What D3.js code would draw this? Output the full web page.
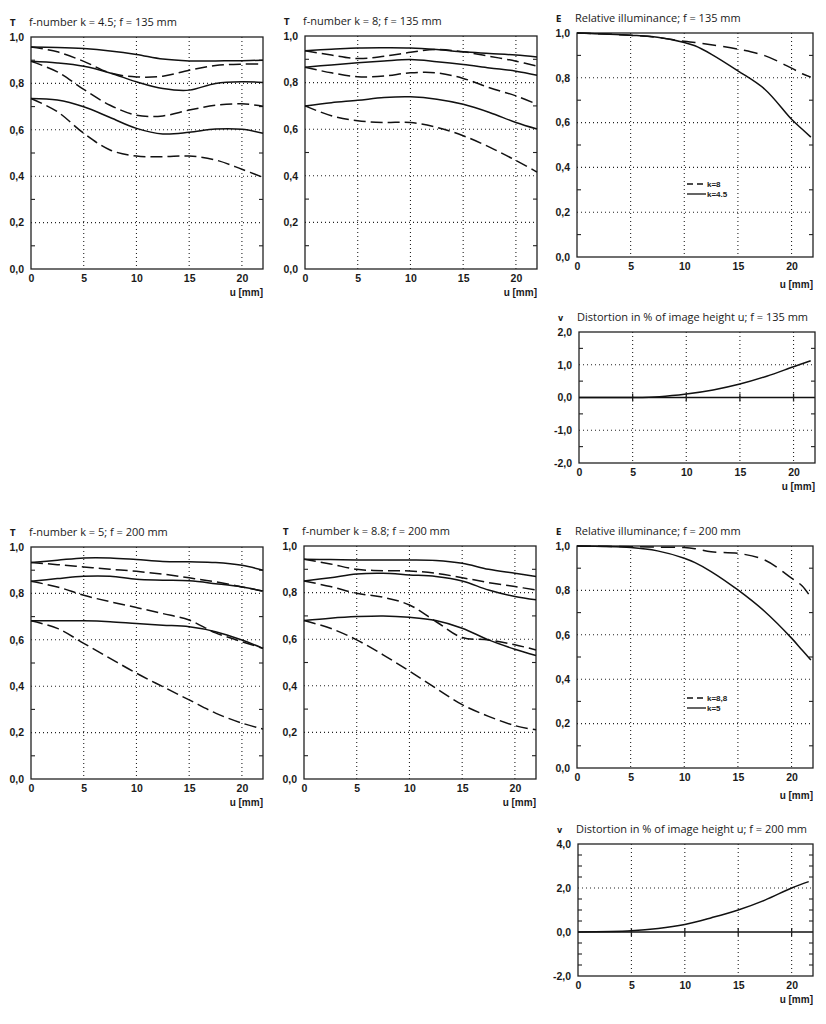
<!DOCTYPE html>
<html>
<head>
<meta charset="utf-8">
<title>Lens data f = 135 / 200 mm</title>
<script src="https://d3js.org/d3.v7.min.js"></script>
<style>
  body { margin: 0; background: #fff; }
  svg { display: block; }
  .title { font-family: "Open Sans", sans-serif; font-size: 11px; fill: #1a1a1a; }
  .ylet { font-family: "DejaVu Sans", sans-serif; font-size: 8px; font-weight: bold; fill: #1a1a1a; }
  .tick text { font-family: "Liberation Sans", sans-serif; font-size: 10.5px; font-weight: bold; fill: #1a1a1a; }
  .unit { font-family: "Liberation Sans", sans-serif; font-size: 10px; font-weight: bold; fill: #1a1a1a; }
  .leg { font-family: "Liberation Sans", sans-serif; font-size: 8px; font-weight: bold; fill: #1a1a1a; }
  .grid { stroke: #222; stroke-width: 1.1; stroke-dasharray: 1 3; }
  .frame { fill: none; stroke: #222; stroke-width: 1.3; }
  .curve { fill: none; stroke: #111; stroke-width: 1.5; }
</style>
</head>
<body>
<div id="chart"></div>
<script>
// image height u in mm where the curves were read
const uT = [0, 2.5, 5, 7.5, 10, 12.5, 15, 17.5, 20, 22];

// contrast T, f = 135 mm, k = 4.5 (three frequencies each)
const t135k45Solid = [
  [0.957, 0.955, 0.950, 0.940, 0.925, 0.905, 0.897, 0.897, 0.898, 0.900],
  [0.895, 0.888, 0.874, 0.845, 0.807, 0.778, 0.771, 0.800, 0.807, 0.804],
  [0.735, 0.728, 0.699, 0.653, 0.606, 0.582, 0.589, 0.603, 0.602, 0.585]
];
const t135k45Dashed = [
  [0.957, 0.936, 0.895, 0.845, 0.828, 0.831, 0.857, 0.877, 0.883, 0.883],
  [0.895, 0.850, 0.774, 0.706, 0.663, 0.660, 0.685, 0.706, 0.712, 0.702],
  [0.735, 0.678, 0.585, 0.513, 0.487, 0.484, 0.487, 0.470, 0.430, 0.395]
];

// contrast T, f = 135 mm, k = 8
const t135k8Solid = [
  [0.937, 0.943, 0.949, 0.950, 0.949, 0.942, 0.932, 0.925, 0.918, 0.910],
  [0.866, 0.876, 0.885, 0.893, 0.899, 0.890, 0.878, 0.863, 0.849, 0.832],
  [0.700, 0.714, 0.724, 0.736, 0.739, 0.729, 0.707, 0.672, 0.629, 0.601]
];
const t135k8Dashed = [
  [0.937, 0.918, 0.903, 0.913, 0.930, 0.942, 0.932, 0.913, 0.892, 0.871],
  [0.866, 0.842, 0.825, 0.828, 0.842, 0.842, 0.818, 0.778, 0.743, 0.707],
  [0.700, 0.658, 0.636, 0.629, 0.629, 0.608, 0.572, 0.523, 0.466, 0.416]
];

// contrast T, f = 200 mm, k = 5
const t200k5Solid = [
  [0.933, 0.943, 0.953, 0.953, 0.946, 0.938, 0.936, 0.933, 0.921, 0.900],
  [0.852, 0.864, 0.874, 0.874, 0.861, 0.857, 0.854, 0.842, 0.828, 0.810],
  [0.682, 0.682, 0.682, 0.678, 0.670, 0.663, 0.656, 0.635, 0.599, 0.563]
];
const t200k5Dashed = [
  [0.933, 0.924, 0.914, 0.904, 0.895, 0.883, 0.867, 0.850, 0.828, 0.810],
  [0.852, 0.828, 0.792, 0.764, 0.739, 0.713, 0.685, 0.630, 0.592, 0.563],
  [0.682, 0.649, 0.585, 0.520, 0.456, 0.398, 0.341, 0.284, 0.241, 0.215]
];

// contrast T, f = 200 mm, k = 8.8
const t200k88Solid = [
  [0.943, 0.942, 0.940, 0.940, 0.940, 0.938, 0.926, 0.900, 0.883, 0.869],
  [0.850, 0.864, 0.880, 0.883, 0.876, 0.869, 0.850, 0.811, 0.783, 0.769],
  [0.680, 0.690, 0.697, 0.700, 0.694, 0.680, 0.647, 0.597, 0.557, 0.530]
];
const t200k88Dashed = [
  [0.943, 0.923, 0.900, 0.894, 0.893, 0.883, 0.864, 0.843, 0.826, 0.811],
  [0.850, 0.826, 0.797, 0.780, 0.747, 0.676, 0.607, 0.597, 0.576, 0.554],
  [0.680, 0.647, 0.597, 0.533, 0.463, 0.390, 0.319, 0.269, 0.229, 0.211]
];

// relative illuminance E
const uE = [0, 5, 7.5, 10, 11, 12.5, 15, 17.5, 20, 21, 21.8];
const e135k8 = [1.0, 0.990, 0.980, 0.963, 0.958, 0.948, 0.928, 0.899, 0.843, 0.818, 0.803];
const e135k45 = [1.0, 0.990, 0.981, 0.958, 0.943, 0.906, 0.831, 0.749, 0.615, 0.570, 0.535];
const e200k88 = [1.0, 0.997, 0.995, 0.993, 0.988, 0.974, 0.967, 0.937, 0.855, 0.820, 0.768];
const e200k5 = [1.0, 0.993, 0.978, 0.945, 0.925, 0.885, 0.802, 0.705, 0.585, 0.530, 0.487];

// distortion v in %
const uD = [0, 5, 7.5, 10, 12.5, 15, 17.5, 20, 21.6];
const v135 = [0, 0, 0.025, 0.106, 0.23, 0.41, 0.65, 0.94, 1.12];
const v200 = [0, 0.056, 0.16, 0.345, 0.65, 1.0, 1.45, 2.0, 2.29];

const xTicks = [0, 5, 10, 15, 20];

const W = 826, H = 1024;
const svg = d3.select('#chart').append('svg').attr('width', W).attr('height', H);

const fmt = d => d3.format('.1f')(d).replace('.', ',').replace('\u2212', '-');

const panels = [
  { kind: 'T', letter: 'T', title: 'f-number k = 4.5; f = 135 mm', box: [31, 263, 37, 269], x: uT,
    solid: t135k45Solid, dashed: t135k45Dashed },
  { kind: 'T', letter: 'T', title: 'f-number k = 8; f = 135 mm', box: [305, 537, 36, 269], x: uT,
    solid: t135k8Solid, dashed: t135k8Dashed },
  { kind: 'E', letter: 'E', title: 'Relative illuminance; f = 135 mm', box: [577, 813, 33, 257], x: uE,
    solid: [e135k45], dashed: [e135k8], legend: ['k=8', 'k=4.5'], legY: 184 },
  { kind: 'D', letter: 'v', title: 'Distortion in % of image height u; f = 135 mm', box: [579, 815, 332, 463], x: uD,
    solid: [v135], yDomain: [-2, 2], yLabels: [-2, -1, 0, 1, 2], yGrid: [-1, 1],
    yMinor: [-1.5, -0.5, 0.5, 1.5] },
  { kind: 'T', letter: 'T', title: 'f-number k = 5; f = 200 mm', box: [31, 263, 547, 779], x: uT,
    solid: t200k5Solid, dashed: t200k5Dashed },
  { kind: 'T', letter: 'T', title: 'f-number k = 8.8; f = 200 mm', box: [304, 536, 546, 779], x: uT,
    solid: t200k88Solid, dashed: t200k88Dashed },
  { kind: 'E', letter: 'E', title: 'Relative illuminance; f = 200 mm', box: [577, 813, 546, 768], x: uE,
    solid: [e200k5], dashed: [e200k88], legend: ['k=8,8', 'k=5'], legY: 698 },
  { kind: 'D', letter: 'v', title: 'Distortion in % of image height u; f = 200 mm', box: [578, 813, 844, 976], x: uD,
    solid: [v200], yDomain: [-2, 4], yLabels: [-2, 0, 2, 4], yGrid: [2],
    yMinor: [-1.5, -1, -0.5, 0.5, 1, 1.5, 2.5, 3, 3.5] }
];

panels.forEach(p => {
  const [l, r, t, b] = p.box;
  const g = svg.append('g');
  const yDomain = p.yDomain || [0, 1];
  const x = d3.scaleLinear().domain([0, 22]).range([l, r]);
  const y = d3.scaleLinear().domain(yDomain).range([b, t]);
  const yLabels = p.yLabels || [0, 0.2, 0.4, 0.6, 0.8, 1.0];
  const yGrid = p.yGrid || [0.2, 0.4, 0.6, 0.8];
  const yMinor = p.yMinor || [0.1, 0.3, 0.5, 0.7, 0.9];

  // dotted grid
  g.selectAll('.gx').data(xTicks.slice(1)).join('line')
    .attr('class', 'grid')
    .attr('x1', d => x(d)).attr('x2', d => x(d)).attr('y1', t).attr('y2', b);
  g.selectAll('.gy').data(yGrid).join('line')
    .attr('class', 'grid')
    .attr('x1', l).attr('x2', r).attr('y1', d => y(d)).attr('y2', d => y(d));

  // minor ticks on both sides
  yMinor.forEach(v => {
    g.append('line').attr('stroke', '#222').attr('stroke-width', 1.1)
      .attr('x1', l).attr('x2', l + 4).attr('y1', y(v)).attr('y2', y(v));
    g.append('line').attr('stroke', '#222').attr('stroke-width', 1.1)
      .attr('x1', r - 4).attr('x2', r).attr('y1', y(v)).attr('y2', y(v));
  });

  if (p.kind === 'D') {
    g.append('line').attr('stroke', '#111').attr('stroke-width', 1.3)
      .attr('x1', l).attr('x2', r).attr('y1', y(0)).attr('y2', y(0));
    xTicks.slice(1).forEach(v => {
      g.append('line').attr('stroke', '#222').attr('stroke-width', 1.3)
        .attr('x1', x(v)).attr('x2', x(v)).attr('y1', y(0) - 4).attr('y2', y(0) + 4);
    });
  }

  // frame
  g.append('rect').attr('class', 'frame')
    .attr('x', l).attr('y', t).attr('width', r - l).attr('height', b - t);

  // axes labels
  g.append('g').attr('transform', `translate(${l - 4},0)`)
    .call(d3.axisLeft(y).tickValues(yLabels).tickSize(0).tickFormat(fmt))
    .call(s => s.select('.domain').remove());
  g.append('g').attr('transform', `translate(0,${b + 3})`)
    .call(d3.axisBottom(x).tickValues(xTicks).tickSize(0).tickFormat(d3.format('d')))
    .call(s => s.select('.domain').remove());
  g.append('text').attr('class', 'unit')
    .attr('x', r).attr('y', b + (p.kind === 'E' ? 31 : 27))
    .attr('text-anchor', 'end').text('u [mm]');

  // titles
  g.append('text').attr('class', 'ylet').attr('x', l - 21).attr('y', t - 11).text(p.letter);
  g.append('text').attr('class', 'title').attr('x', l - 2).attr('y', t - 11).text(p.title);

  // curves
  const line = d3.line().x((d, i) => x(p.x[i])).y(d => y(d)).curve(d3.curveCatmullRom.alpha(0.5));
  g.selectAll('.solid').data(p.solid).join('path')
    .attr('class', 'curve').attr('d', line);
  if (p.dashed) {
    g.selectAll('.dashed').data(p.dashed).join('path')
      .attr('class', 'curve')
      .attr('stroke-dasharray', p.kind === 'E' ? '14 7' : '12 5')
      .attr('d', line);
  }

  // legend for illuminance panels
  if (p.legend) {
    const lx = 687;
    g.append('line').attr('stroke', '#111').attr('stroke-width', 1.3)
      .attr('stroke-dasharray', '6 4')
      .attr('x1', lx).attr('x2', lx + 17).attr('y1', p.legY).attr('y2', p.legY);
    g.append('line').attr('stroke', '#111').attr('stroke-width', 1.3)
      .attr('x1', lx).attr('x2', lx + 19).attr('y1', p.legY + 10).attr('y2', p.legY + 10);
    g.append('text').attr('class', 'leg').attr('x', lx + 20).attr('y', p.legY + 3).text(p.legend[0]);
    g.append('text').attr('class', 'leg').attr('x', lx + 20).attr('y', p.legY + 13).text(p.legend[1]);
  }
});
</script>
</body>
</html>
